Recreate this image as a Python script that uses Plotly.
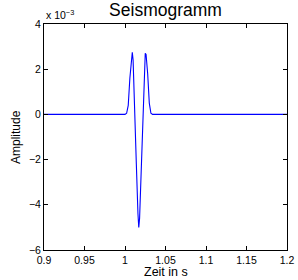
import plotly.graph_objects as go

# time (s) and amplitude (x 1e-3)
time_s = [0.9, 1.000, 1.002, 1.004, 1.006, 1.008, 1.009, 1.010, 1.012, 1.014, 1.016, 1.017,
          1.018, 1.020, 1.022, 1.024, 1.025, 1.026, 1.028, 1.030, 1.032, 1.034, 1.2]
amp_e3 = [0.0, 0.0, 0.05, 0.4, 1.6, 2.65, 2.75, 2.4, 0.5, -2.2, -4.4, -5.0,
          -4.6, -2.5, 0.0, 2.2, 2.7, 2.65, 1.8, 0.5, 0.05, 0.0, 0.0]
amplitude = [v * 1e-3 for v in amp_e3]

x_ticks = [0.9, 0.95, 1.0, 1.05, 1.1, 1.15, 1.2]
x_labels = ["0.9", "0.95", "1", "1.05", "1.1", "1.15", "1.2"]
y_ticks = [-0.006, -0.004, -0.002, 0.0, 0.002, 0.004]
y_labels = ["\u22126", "\u22124", "\u22122", "0", "2", "4"]

FONT = "Liberation Sans, Arial, sans-serif"
H = 280

fig = go.Figure()
fig.add_trace(go.Scatter(x=time_s, y=amplitude, mode="lines",
                         line=dict(color="rgb(0,0,255)", width=1.1),
                         showlegend=False, hoverinfo="skip"))

axis_common = dict(showline=True, linecolor="black", linewidth=1, mirror="allticks",
                   ticks="inside", ticklen=4, tickcolor="black", showgrid=False,
                   zeroline=False, automargin=False,
                   tickfont=dict(family=FONT, size=10.5, color="black"))

fig.update_layout(
    width=298, height=H,
    margin=dict(l=44, r=11, t=24, b=30),
    paper_bgcolor="white", plot_bgcolor="white",
    font=dict(family=FONT, color="black"),
    title=dict(text="Seismogramm", xref="paper", x=0.5, xanchor="center",
               yref="container", y=1 - 10 / H, yanchor="middle",
               font=dict(family=FONT, size=17.5, color="black")),
    xaxis=dict(range=[0.9, 1.2], tickvals=x_ticks, ticktext=x_labels, **axis_common),
    yaxis=dict(range=[-0.006, 0.004], tickvals=y_ticks, ticktext=y_labels, **axis_common),
    annotations=[
        dict(text="x 10<sup>\u22123</sup>", xref="paper", yref="paper",
             x=0.0, y=1.0, xanchor="left", yanchor="bottom", yshift=1,
             showarrow=False, font=dict(family=FONT, size=10.5, color="black")),
        dict(text="Zeit in s", xref="paper", yref="paper", x=0.5, y=0,
             xanchor="center", yanchor="middle", yshift=-22,
             showarrow=False, font=dict(family=FONT, size=12.5, color="black")),
        dict(text="Amplitude", xref="paper", yref="paper", x=0, y=0.5,
             xanchor="center", yanchor="middle", xshift=-28, textangle=-90,
             showarrow=False, font=dict(family=FONT, size=12, color="black")),
    ],
)

fig.write_html("out.html", config={"displayModeBar": False},
               post_script="document.body.style.margin='0';document.body.style.overflow='hidden';")
